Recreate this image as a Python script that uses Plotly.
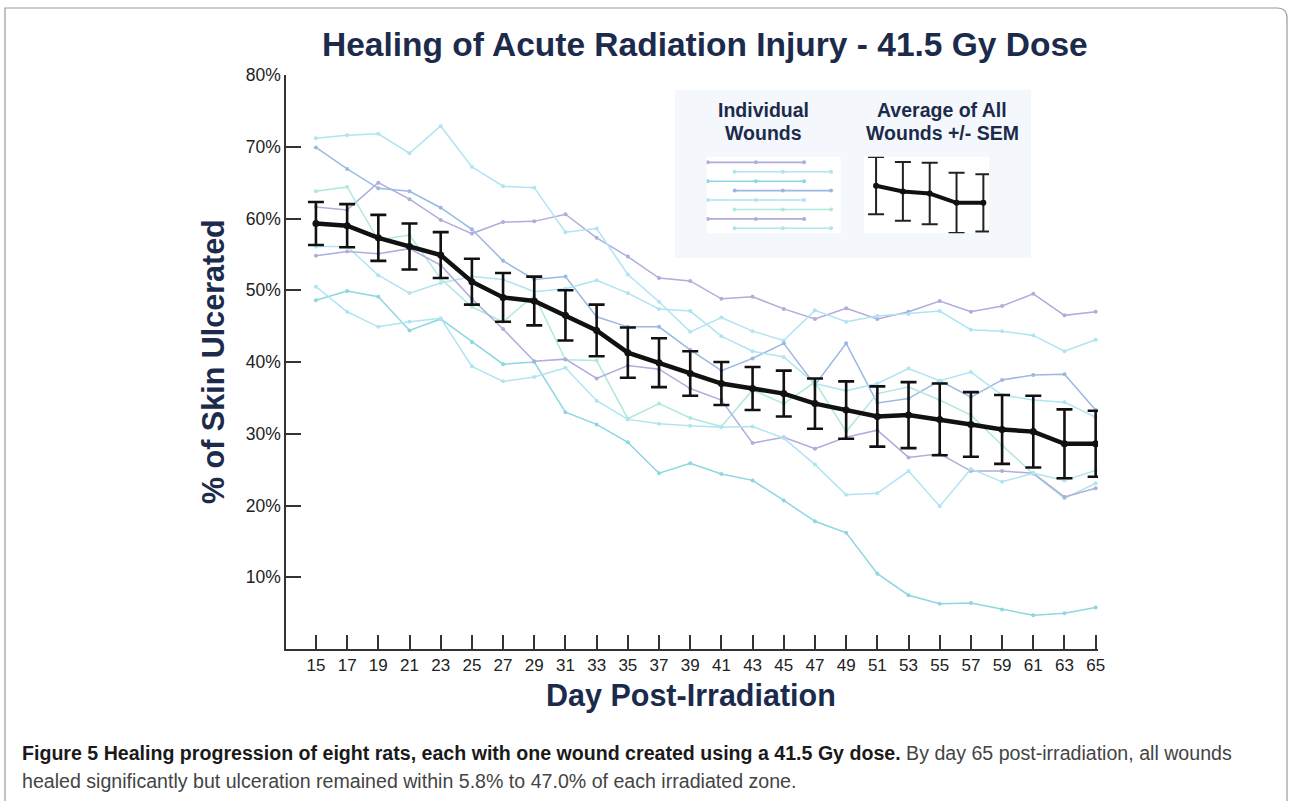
import plotly.graph_objects as go

# ---------------- data ----------------
days = [15, 17, 19, 21, 23, 25, 27, 29, 31, 33, 35, 37, 39, 41, 43, 45, 47, 49, 51, 53, 55, 57, 59, 61, 63, 65]

wound_purple_hi = [61.6, 61.2, 65.0, 62.7, 59.8, 57.9, 59.5, 59.6, 60.6, 57.3, 54.7, 51.7, 51.3, 48.8, 49.1, 47.4, 46.0, 47.5, 46.0, 47.0, 48.5, 47.0, 47.8, 49.5, 46.5, 47.0]
wound_cyan_top = [71.2, 71.6, 71.8, 69.1, 72.9, 67.2, 64.5, 64.3, 58.1, 58.6, 52.2, 48.4, 44.2, 46.2, 44.3, 43.0, 47.2, 45.6, 46.4, 46.7, 47.1, 44.5, 44.3, 43.7, 41.5, 43.1]
wound_teal = [48.6, 49.9, 49.1, 44.4, 46.0, 42.8, 39.7, 40.0, 33.0, 31.3, 28.8, 24.5, 25.9, 24.4, 23.5, 20.7, 17.8, 16.2, 10.5, 7.5, 6.3, 6.4, 5.5, 4.7, 5.0, 5.8]
wound_blue = [69.9, 66.9, 64.2, 63.8, 61.5, 58.5, 54.1, 51.5, 51.9, 46.3, 44.9, 44.9, 41.7, 38.8, 40.5, 42.6, 36.8, 42.6, 34.3, 34.9, 37.4, 35.1, 37.5, 38.2, 38.3, 33.3]
wound_cyan_mid = [56.1, 56.1, 52.1, 49.6, 51.0, 51.9, 51.5, 49.8, 50.2, 51.4, 49.6, 47.4, 47.1, 43.6, 41.5, 40.7, 37.0, 36.0, 37.0, 39.1, 37.4, 38.6, 35.4, 34.7, 34.4, 32.3]
wound_aqua = [63.8, 64.4, 57.0, 57.7, 51.6, 47.7, 45.6, 49.3, 40.3, 40.2, 32.1, 34.2, 32.2, 31.0, 36.1, 34.2, 37.2, 30.3, 35.6, 36.5, 34.7, 32.6, 28.4, 24.4, 21.0, 23.1]
wound_purple_lo = [54.8, 55.4, 55.1, 55.8, 53.5, 48.8, 44.6, 40.1, 40.4, 37.7, 39.5, 39.0, 36.3, 34.7, 28.7, 29.5, 27.9, 29.5, 30.5, 26.7, 27.2, 24.8, 24.8, 24.5, 21.2, 22.4]
wound_cyan_low = [50.5, 47.0, 44.9, 45.6, 46.1, 39.4, 37.3, 37.9, 39.2, 34.6, 32.0, 31.4, 31.1, 30.9, 31.0, 29.4, 25.7, 21.5, 21.7, 24.8, 19.9, 25.1, 23.3, 24.5, 23.5, 24.9]

mean_all = [59.3, 59.0, 57.3, 56.1, 54.9, 51.2, 49.0, 48.5, 46.5, 44.4, 41.3, 39.9, 38.4, 37.0, 36.3, 35.6, 34.2, 33.3, 32.4, 32.6, 32.0, 31.3, 30.6, 30.3, 28.6, 28.6]
sem_all = [3.0, 3.0, 3.2, 3.2, 3.2, 3.2, 3.4, 3.4, 3.5, 3.6, 3.5, 3.4, 3.1, 3.0, 3.0, 3.2, 3.5, 4.0, 4.2, 4.6, 5.0, 4.5, 4.8, 5.0, 4.8, 4.6]

y_tick_vals = [10, 20, 30, 40, 50, 60, 70, 80]
y_tick_text = ["10%", "20%", "30%", "40%", "50%", "60%", "70%", "80%"]

# legend sample data
legend_row_x_a = [0, 1, 2]
legend_row_x_b = [0.56, 1.56, 2.56]
legend_rows = [1, 2, 3, 4, 5, 6, 7, 8]
legend_mean_x = [0, 1, 2, 3, 4]
legend_mean = [64.6, 63.8, 63.5, 62.2, 62.2]
legend_sem = [4.0, 4.1, 4.3, 4.2, 4.0]

# ---------------- styles ----------------
PURPLE = "#b0acdc"
CYAN = "#b0e4f2"
TEAL = "#8cd7e0"
BLUE = "#9bb8e3"
AQUA = "#afe9dd"
NAVY = "#1c2b4b"

W, H = 1290, 801
L, R, T, B = 286, 1098, 75, 649


def px_x(px):
    return (px - L) / (R - L)


def px_y(py):
    return (B - py) / (B - T)


series = [
    (wound_purple_hi, PURPLE),
    (wound_cyan_top, CYAN),
    (wound_teal, TEAL),
    (wound_blue, BLUE),
    (wound_cyan_mid, CYAN),
    (wound_aqua, AQUA),
    (wound_purple_lo, PURPLE),
    (wound_cyan_low, CYAN),
]

fig = go.Figure()

for vals, col in series:
    fig.add_trace(go.Scatter(
        x=days, y=vals, mode="lines+markers",
        line=dict(color=col, width=1.5),
        marker=dict(color=col, size=4),
        showlegend=False, hoverinfo="skip",
    ))

fig.add_trace(go.Scatter(
    x=days, y=mean_all, mode="lines+markers",
    line=dict(color="#111111", width=4.5),
    marker=dict(color="#111111", size=7),
    error_y=dict(type="data", array=sem_all, visible=True,
                 color="#111111", thickness=2.6, width=8),
    showlegend=False, hoverinfo="skip",
))

# legend samples (inset axes)
for i, (vals, col) in enumerate(series):
    xs = legend_row_x_a if i % 2 == 0 else legend_row_x_b
    fig.add_trace(go.Scatter(
        x=xs, y=[legend_rows[i]] * 3, mode="lines+markers",
        line=dict(color=col, width=1.6), marker=dict(color=col, size=4),
        xaxis="x2", yaxis="y2", showlegend=False, hoverinfo="skip",
    ))

fig.add_trace(go.Scatter(
    x=legend_mean_x, y=legend_mean, mode="lines+markers",
    line=dict(color="#111111", width=4), marker=dict(color="#111111", size=6),
    error_y=dict(type="data", array=legend_sem, visible=True,
                 color="#222222", thickness=2, width=8),
    xaxis="x3", yaxis="y3", showlegend=False, hoverinfo="skip",
))

font_main = "Liberation Sans, Arial, sans-serif"

fig.update_layout(
    width=W, height=H, autosize=False,
    margin=dict(l=L, r=W - R, t=T, b=H - B, pad=0),
    paper_bgcolor="white", plot_bgcolor="rgba(0,0,0,0)",
    font=dict(family=font_main, color="#222222", size=17),
    xaxis=dict(
        range=[13.08, 65.15], tickvals=days, ticktext=[str(d) for d in days],
        ticks="inside", ticklen=14, tickwidth=1.5, tickcolor="#333333",
        showline=True, linecolor="#333333", linewidth=1.5,
        showgrid=False, zeroline=False, tickfont=dict(size=17, color="#222222"),
        fixedrange=True,
    ),
    yaxis=dict(
        range=[0, 80], tickvals=y_tick_vals, ticktext=y_tick_text,
        ticks="inside", ticklen=15, tickwidth=1.5, tickcolor="#333333",
        showline=True, linecolor="#333333", linewidth=1.5,
        showgrid=False, zeroline=False, tickfont=dict(size=17.5, color="#222222"),
        fixedrange=True,
    ),
    xaxis2=dict(domain=[px_x(706.7), px_x(840.7)], range=[-0.02, 2.76],
                visible=False, anchor="y2", fixedrange=True),
    yaxis2=dict(domain=[px_y(233.3), px_y(156.7)], range=[8.53, 0.4],
                visible=False, anchor="x2", fixedrange=True),
    xaxis3=dict(domain=[px_x(864), px_x(989)], range=[-0.45, 4.21],
                visible=False, anchor="y3", fixedrange=True),
    yaxis3=dict(domain=[px_y(233.3), px_y(156.7)], range=[57.95, 68.65],
                visible=False, anchor="x3", fixedrange=True),
)

shapes = [
    # legend background box
    dict(type="rect", xref="paper", yref="paper", layer="below",
         x0=px_x(675), x1=px_x(1031), y0=px_y(258), y1=px_y(90),
         fillcolor="#f4f8fc", line=dict(width=0)),
    dict(type="rect", xref="paper", yref="paper", layer="below",
         x0=px_x(706.7), x1=px_x(840.7), y0=px_y(233.3), y1=px_y(156.7),
         fillcolor="white", line=dict(width=0)),
    dict(type="rect", xref="paper", yref="paper", layer="below",
         x0=px_x(864), x1=px_x(989), y0=px_y(233.3), y1=px_y(156.7),
         fillcolor="white", line=dict(width=0)),
    # figure frame
    dict(type="path", xref="paper", yref="paper", layer="below",
         path=(f"M {px_x(5)},{px_y(805)} L {px_x(5)},{px_y(8)} "
               f"L {px_x(1277)},{px_y(8)} Q {px_x(1287)},{px_y(8)} {px_x(1287)},{px_y(18)} "
               f"L {px_x(1287)},{px_y(805)}"),
         line=dict(color="#9a9a9a", width=1.2)),
]

ann = []


def add_text(text, px, py, size, color=NAVY, bold=True, angle=0, xanchor="center",
             family=font_main):
    ann.append(dict(
        text=(f"<b>{text}</b>" if bold else text), xref="paper", yref="paper",
        x=px_x(px), y=px_y(py), xanchor=xanchor, yanchor="middle",
        showarrow=False, textangle=angle,
        font=dict(size=size, color=color, family=family),
    ))


add_text("Healing of Acute Radiation Injury - 41.5 Gy Dose", 704.5, 45, 33.5)
add_text("Day Post-Irradiation", 691, 695, 30.5)
add_text("% of Skin Ulcerated", 213, 362, 30.5, angle=-90)
add_text("Individual", 763, 110, 19.5)
add_text("Wounds", 763, 133, 19.5)
add_text("Average of All", 942, 110, 19.5)
add_text("Wounds +/- SEM", 942, 133, 19.5)

cap_font = "Liberation Sans, Arial, sans-serif"
ann.append(dict(
    text=("<b>Figure 5 Healing progression of eight rats, each with one wound created using a 41.5 Gy dose.</b>"
          "<span style='color:#444444'> By day 65 post-irradiation, all wounds</span>"),
    xref="paper", yref="paper", x=px_x(20), y=px_y(753), xanchor="left", yanchor="middle",
    showarrow=False, font=dict(size=19.6, color="#1a1a1a", family=cap_font),
))
ann.append(dict(
    text="healed significantly but ulceration remained within 5.8% to 47.0% of each irradiated zone.",
    xref="paper", yref="paper", x=px_x(20), y=px_y(781), xanchor="left", yanchor="middle",
    showarrow=False, font=dict(size=19.6, color="#444444", family=cap_font),
))

fig.update_layout(shapes=shapes, annotations=ann)

fig.write_html("out.html", post_script="document.body.style.margin='0';",
               config={"displayModeBar": False})
